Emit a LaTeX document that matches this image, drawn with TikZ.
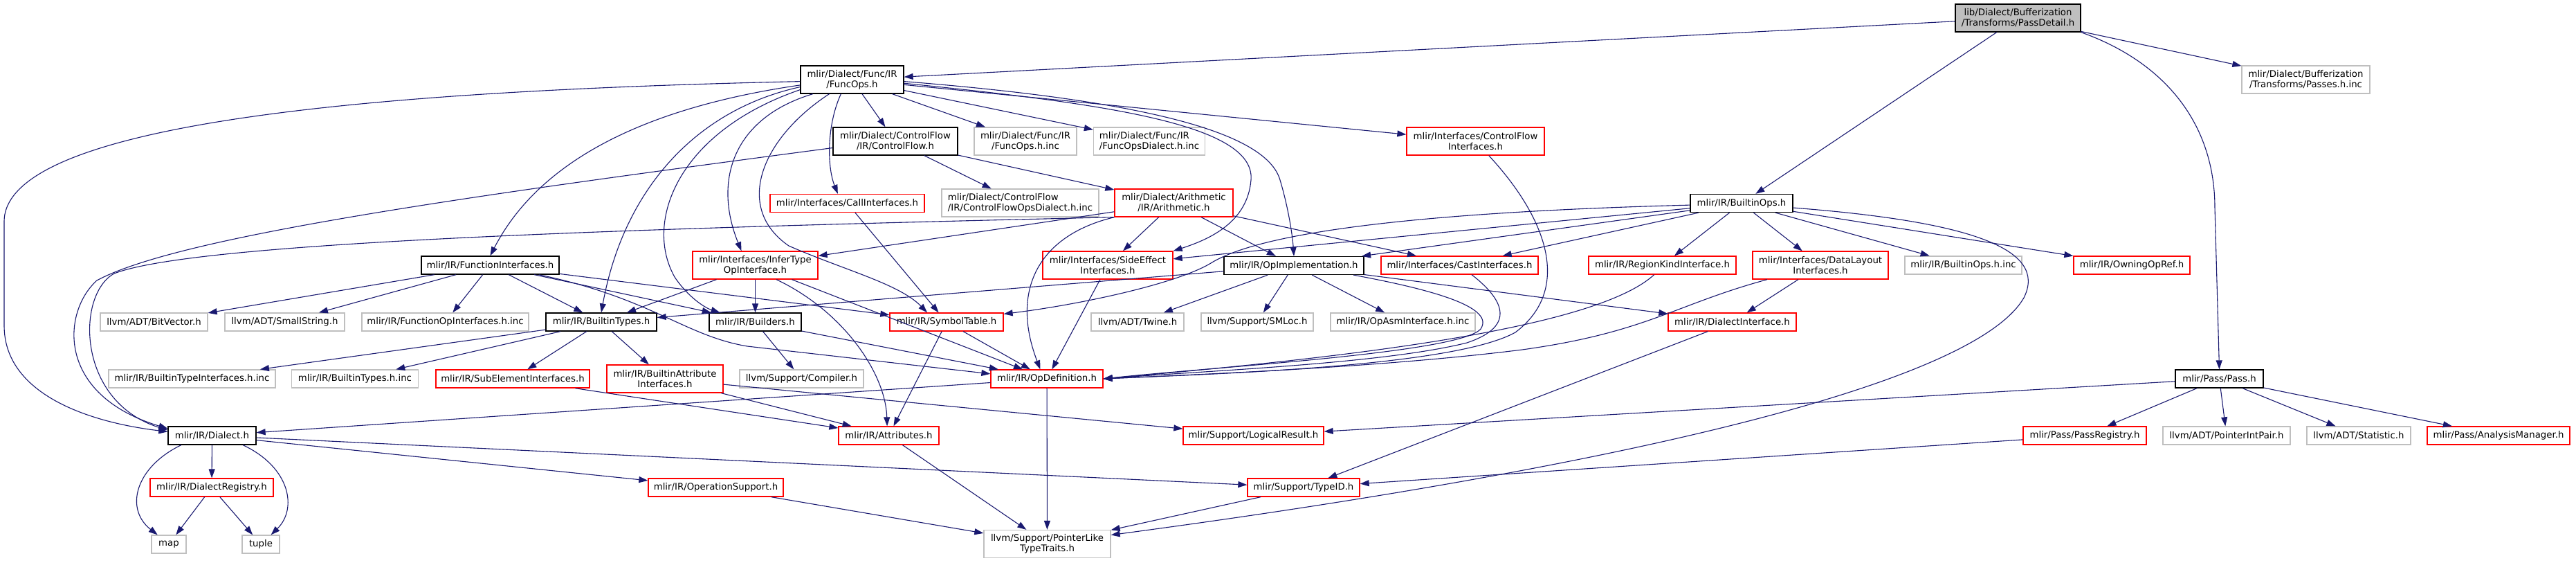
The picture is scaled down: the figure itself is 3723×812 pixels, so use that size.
\documentclass[tikz,border=0pt]{standalone}
\usepackage{fontspec}
\setmainfont{DejaVu Sans}
\usepackage{tikz}
\usetikzlibrary{arrows.meta}
\definecolor{edgeblue}{RGB}{25,25,112}
\definecolor{grey75}{RGB}{191,191,191}
\tikzset{
    incbox/.style={rectangle,fill=white,inner sep=0pt,minimum height=26pt,align=center,
        line width=1.3pt,font=\fontsize{13.3}{15}\selectfont},
    hfile/.style={incbox,draw=black},
    rfile/.style={incbox,draw=red},
    gfile/.style={incbox,draw=grey75},
    curfile/.style={incbox,draw=black,fill=grey75},
    tall/.style={minimum height=40pt},
    boxw/.style={minimum width=#1pt},
    dep/.style={draw=edgeblue,line width=1.1pt,-{Triangle[length=13pt,width=9pt]}}
}

\begin{document}
\begin{tikzpicture}[x=1pt,y=-1pt]
  \useasboundingbox (0,0) rectangle (3723,812);

  % rows 1-3
  \node[curfile,boxw=181,tall] (passdetail) at (2916.5,26) {lib/Dialect/Bufferization\\/Transforms/PassDetail.h};
  \node[hfile,boxw=149,tall] (funcops) at (1231.5,115) {mlir/Dialect/Func/IR\\/FuncOps.h};
  \node[gfile,boxw=185,tall] (passesinc) at (3332.5,115) {mlir/Dialect/Bufferization\\/Transforms/Passes.h.inc};
  \node[hfile,boxw=180,tall] (controlflow) at (1294,204) {mlir/Dialect/ControlFlow\\/IR/ControlFlow.h};
  \node[gfile,boxw=148,tall] (funcopsinc) at (1482,204) {mlir/Dialect/Func/IR\\/FuncOps.h.inc};
  \node[gfile,boxw=161,tall,align=left] (funcopsdialectinc) at (1661,204) {mlir/Dialect/Func/IR\\/FuncOpsDialect.h.inc};
  \node[rfile,boxw=199,tall] (cfinterfaces) at (2132.5,204) {mlir/Interfaces/ControlFlow\\Interfaces.h};
  \node[rfile,boxw=223] (callinterfaces) at (1224.5,293.5) {mlir/Interfaces/CallInterfaces.h};
  \node[gfile,boxw=227,tall,align=left] (cfopsdialectinc) at (1474.5,293) {mlir/Dialect/ControlFlow\\/IR/ControlFlowOpsDialect.h.inc};
  \node[rfile,boxw=171,tall] (arithmetic) at (1696.5,293) {mlir/Dialect/Arithmetic\\/IR/Arithmetic.h};
  \node[hfile,boxw=148] (builtinops) at (2517,293.5) {mlir/IR/BuiltinOps.h};

  % row 4
  \node[hfile,boxw=199] (functioninterfaces) at (708.5,383) {mlir/IR/FunctionInterfaces.h};
  \node[rfile,boxw=181,tall] (infertype) at (1091.5,383) {mlir/Interfaces/InferType\\OpInterface.h};
  \node[rfile,boxw=188,tall] (sideeffect) at (1601,383) {mlir/Interfaces/SideEffect\\Interfaces.h};
  \node[hfile,boxw=202] (opimpl) at (1870,383.5) {mlir/IR/OpImplementation.h};
  \node[rfile,boxw=227] (castinterfaces) at (2109.5,383) {mlir/Interfaces/CastInterfaces.h};
  \node[rfile,boxw=213] (regionkind) at (2402.5,383) {mlir/IR/RegionKindInterface.h};
  \node[rfile,boxw=196,tall] (datalayout) at (2631,383) {mlir/Interfaces/DataLayout\\Interfaces.h};
  \node[gfile,boxw=169] (builtinopsinc) at (2837.5,383) {mlir/IR/BuiltinOps.h.inc};
  \node[rfile,boxw=168] (owningopref) at (3081,383) {mlir/IR/OwningOpRef.h};

  % row 5
  \node[gfile,boxw=155] (bitvector) at (222.5,465) {llvm/ADT/BitVector.h};
  \node[gfile,boxw=173] (smallstring) at (411.5,465) {llvm/ADT/SmallString.h};
  \node[gfile,boxw=241] (funcopinterfacesinc) at (643.5,465) {mlir/IR/FunctionOpInterfaces.h.inc};
  \node[hfile,boxw=160] (builtintypes) at (869,465) {mlir/IR/BuiltinTypes.h};
  \node[hfile,boxw=133] (builders) at (1091.5,465) {mlir/IR/Builders.h};
  \node[rfile,boxw=164] (symboltable) at (1368,465) {mlir/IR/SymbolTable.h};
  \node[gfile,boxw=134] (twine) at (1644,465) {llvm/ADT/Twine.h};
  \node[gfile,boxw=162] (smloc) at (1817,465) {llvm/Support/SMLoc.h};
  \node[gfile,boxw=209] (opasminc) at (2027.5,465) {mlir/IR/OpAsmInterface.h.inc};
  \node[rfile,boxw=185] (dialectinterface) at (2503.5,465) {mlir/IR/DialectInterface.h};

  % row 6
  \node[gfile,boxw=241] (builtintypeinterfacesinc) at (277.5,547) {mlir/IR/BuiltinTypeInterfaces.h.inc};
  \node[gfile,boxw=183] (builtintypesinc) at (513,547) {mlir/IR/BuiltinTypes.h.inc};
  \node[rfile,boxw=222] (subelement) at (741,547) {mlir/IR/SubElementInterfaces.h};
  \node[rfile,boxw=168,tall] (builtinattr) at (961,547) {mlir/IR/BuiltinAttribute\\Interfaces.h};
  \node[gfile,boxw=179] (compiler) at (1158.5,547) {llvm/Support/Compiler.h};
  \node[rfile,boxw=162] (opdefinition) at (1513,547) {mlir/IR/OpDefinition.h};
  \node[hfile,boxw=127] (pass) at (3207.5,547) {mlir/Pass/Pass.h};

  % row 7
  \node[hfile,boxw=127] (dialect) at (306.5,629) {mlir/IR/Dialect.h};
  \node[rfile,boxw=145] (attributes) at (1284.5,629) {mlir/IR/Attributes.h};
  \node[rfile,boxw=203] (logicalresult) at (1811.5,629) {mlir/Support/LogicalResult.h};
  \node[rfile,boxw=178] (passregistry) at (3013,629) {mlir/Pass/PassRegistry.h};
  \node[gfile,boxw=184] (pointerintpair) at (3218,629) {llvm/ADT/PointerIntPair.h};
  \node[gfile,boxw=150] (statistic) at (3409,629) {llvm/ADT/Statistic.h};
  \node[rfile,boxw=206] (analysismanager) at (3611,629) {mlir/Pass/AnalysisManager.h};

  % rows 8-9
  \node[rfile,boxw=178] (dialectregistry) at (306,704) {mlir/IR/DialectRegistry.h};
  \node[rfile,boxw=195] (operationsupport) at (1034.5,704) {mlir/IR/OperationSupport.h};
  \node[rfile,boxw=162] (typeid) at (1884,704) {mlir/Support/TypeID.h};
  \node[gfile,boxw=50] (map) at (244,786) {map};
  \node[gfile,boxw=54] (tuple) at (377,786) {tuple};
  \node[gfile,boxw=183,tall] (pointerlike) at (1513.5,785.5) {llvm/Support/PointerLike\\TypeTraits.h};

  % straight includes
  \foreach \a/\b in {passdetail/funcops,passdetail/builtinops,passdetail/passesinc,
      funcops/controlflow,funcops/funcopsinc,funcops/funcopsdialectinc,funcops/cfinterfaces,
      controlflow/cfopsdialectinc,controlflow/arithmetic,callinterfaces/symboltable,
      arithmetic/infertype,arithmetic/sideeffect,arithmetic/opimpl,arithmetic/castinterfaces,
      infertype/builtintypes,infertype/builders,infertype/opdefinition,
      functioninterfaces/bitvector,functioninterfaces/smallstring,functioninterfaces/funcopinterfacesinc,
      functioninterfaces/builtintypes,functioninterfaces/builders,functioninterfaces/symboltable,
      builtintypes/builtintypeinterfacesinc,builtintypes/builtintypesinc,builtintypes/subelement,builtintypes/builtinattr,
      builders/compiler,builders/opdefinition,symboltable/opdefinition,symboltable/attributes,
      sideeffect/opdefinition,
      opimpl/builtintypes,opimpl/twine,opimpl/smloc,opimpl/opasminc,opimpl/dialectinterface,
      builtinops/sideeffect,builtinops/opimpl,builtinops/castinterfaces,builtinops/regionkind,
      builtinops/datalayout,builtinops/builtinopsinc,builtinops/owningopref,
      datalayout/dialectinterface,dialectinterface/typeid,
      subelement/attributes,builtinattr/attributes,builtinattr/logicalresult,
      dialect/dialectregistry,dialect/operationsupport,dialect/typeid,
      dialectregistry/map,dialectregistry/tuple,
      operationsupport/pointerlike,attributes/pointerlike,opdefinition/pointerlike,
      opdefinition/dialect,typeid/pointerlike,
      pass/logicalresult,pass/passregistry,pass/pointerintpair,pass/statistic,pass/analysismanager,
      passregistry/typeid}{
    \draw[dep] (\a) -- (\b);
  }

  % curved includes of FuncOps.h
  \draw[dep] (funcops.182) .. controls (600,130) and (6,170) .. (6,320) -- (6,470)
    .. controls (6,570) and (130,610) .. (dialect.175);
  \draw[dep] (funcops.186) .. controls (900,160) and (770,250) .. (functioninterfaces.north);
  \draw[dep] (funcops.188) .. controls (1000,160) and (900,280) .. (builtintypes.north);
  \draw[dep] (funcops.191) .. controls (980,190) and (930,320) .. (975,400)
    .. controls (995,430) and (1020,445) .. (builders.165);
  \draw[dep] (funcops.200) .. controls (1060,170) and (1030,260) .. (infertype.134);
  \draw[dep] (funcops.232) .. controls (1195,180) and (1195,240) .. (callinterfaces.135);
  \draw[dep] (funcops.212) .. controls (1100,200) and (1060,300) .. (1140,355)
    .. controls (1220,390) and (1300,410) .. (symboltable.154);
  \draw[dep] (funcops.-4) .. controls (1600,150) and (1815,180) .. (1808,260)
    .. controls (1803,320) and (1750,345) .. (sideeffect.north east);
  \draw[dep] (funcops.-2) .. controls (1650,145) and (1830,190) .. (1850,260)
    .. controls (1862,300) and (1868,340) .. (opimpl.north);

  % ControlFlow.h, Arithmetic.h
  \draw[dep] (controlflow.186) .. controls (700,280) and (260,340) .. (140,405)
    .. controls (90,450) and (80,570) .. (dialect.171);
  \draw[dep] (arithmetic.south west) .. controls (900,330) and (280,350) .. (165,395)
    .. controls (110,425) and (110,580) .. (dialect.173);
  \draw[dep] (arithmetic.south west) .. controls (1500,340) and (1460,420) .. (opdefinition.125);

  % InferTypeOpInterface.h, FunctionInterfaces.h
  \draw[dep] (infertype.-34) .. controls (1220,450) and (1280,540) .. (attributes.100);
  \draw[dep] (functioninterfaces.-11) .. controls (940,430) and (990,485) .. (1080,500) -- (opdefinition.175);

  % into OpDefinition.h from the right
  \draw[dep] (opimpl.-9) .. controls (2080,420) and (2160,445) .. (2140,475)
    .. controls (2110,510) and (1750,530) .. (opdefinition.east);
  \draw[dep] (castinterfaces.-38) .. controls (2170,430) and (2195,470) .. (2120,495)
    .. controls (2000,525) and (1750,535) .. (opdefinition.east);
  \draw[dep] (cfinterfaces.-47) .. controls (2240,320) and (2270,420) .. (2190,480)
    .. controls (2100,530) and (1750,540) .. (opdefinition.east);
  \draw[dep] (regionkind.229) .. controls (2300,480) and (1900,520) .. (opdefinition.east);
  \draw[dep] (datalayout.195) .. controls (2420,440) and (2380,480) .. (2200,505)
    .. controls (2000,530) and (1750,540) .. (opdefinition.east);

  % BuiltinOps.h
  \draw[dep] (builtinops.182) .. controls (2100,305) and (1830,330) .. (1750,380)
    .. controls (1700,410) and (1560,440) .. (symboltable.8);
  \draw[dep] (builtinops.-5) .. controls (2850,320) and (2960,360) .. (2925,430)
    .. controls (2850,560) and (2300,680) .. (pointerlike.8);

  % Dialect.h
  \draw[dep] (dialect.197) .. controls (195,675) and (180,735) .. (map.140);
  \draw[dep] (dialect.-17) .. controls (420,675) and (430,735) .. (tuple.43);

  % PassDetail.h -> Pass.h
  \draw[dep] (passdetail.south east) .. controls (3130,90) and (3201,180) .. (3201,300) -- (pass.north);

\end{tikzpicture}
\end{document}
